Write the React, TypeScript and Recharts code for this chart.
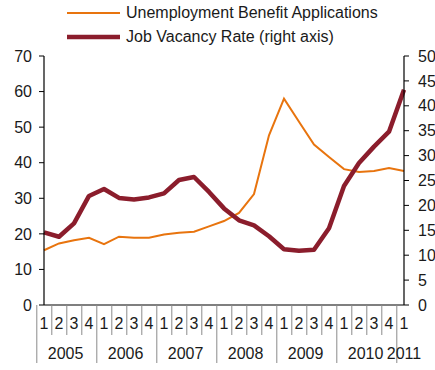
import { LineChart, Line, XAxis, YAxis } from 'recharts';

const quarters = ['1', '2', '3', '4', '1', '2', '3', '4', '1', '2', '3', '4', '1', '2', '3', '4', '1', '2', '3', '4', '1', '2', '3', '4', '1'];
const years = [
  '2005', '2005', '2005', '2005',
  '2006', '2006', '2006', '2006',
  '2007', '2007', '2007', '2007',
  '2008', '2008', '2008', '2008',
  '2009', '2009', '2009', '2009',
  '2010', '2010', '2010', '2010',
  '2011',
];
// left axis
const unemployment = [15.4, 17.3, 18.2, 18.9, 17.1, 19.2, 18.9, 18.9, 19.8, 20.3, 20.6, 22.1, 23.6, 25.9, 31.2, 47.7, 58.0, 51.5, 45.1, 41.6, 38.2, 37.4, 37.7, 38.5, 37.7];
// right axis
const vacancy = [14.6, 13.7, 16.4, 21.9, 23.3, 21.5, 21.2, 21.6, 22.4, 25.1, 25.7, 22.7, 19.4, 17.0, 16.0, 13.8, 11.2, 10.9, 11.1, 15.4, 23.9, 28.5, 31.8, 34.8, 43.2];
const leftTicks = [0, 10, 20, 30, 40, 50, 60, 70];
const rightTicks = [0, 5, 10, 15, 20, 25, 30, 35, 40, 45, 50];

const ORANGE = '#E8740E';
const DARK_RED = '#8B1D2C';
const FONT = '"Liberation Sans", Arial, sans-serif';
const TEXT = '#1a1a1a';
const FS = 16;

const W = 435;
const H = 370;
const LEFT_W = 44;
const RIGHT_W = 31;
const PLOT_W = W - LEFT_W - RIGHT_W;

const data = quarters.map((q, i) => ({
  key: `${years[i]}-${q}-${i}`,
  q,
  year: years[i],
  unemployment: unemployment[i],
  vacancy: vacancy[i],
}));

function QuarterTick(props: any) {
  const { x, y, index } = props;
  const bw = PLOT_W / data.length;
  const d = data[index];
  if (!d) return null;
  const firstOfYear = index === 0 || data[index - 1].year !== d.year;
  const left = x - bw / 2;
  let yearLabel = null;
  if (firstOfYear) {
    const count = data.filter((p) => p.year === d.year).length;
    yearLabel = (
      <text x={left + (count * bw) / 2} y={y + 54} textAnchor="middle" fontSize={FS} fontFamily={FONT} fill={TEXT}>
        {d.year}
      </text>
    );
  }
  return (
    <g>
      <line x1={left} x2={left} y1={y} y2={firstOfYear ? y + 58 : y + 30} stroke="#8a8a8a" strokeWidth={1} />
      <text x={x} y={y + 24} textAnchor="middle" fontSize={FS} fontFamily={FONT} fill={TEXT}>
        {d.q}
      </text>
      {yearLabel}
    </g>
  );
}

function LegendOverlay() {
  const items = [
    { label: 'Unemployment Benefit Applications', color: ORANGE, width: 2, top: 13 },
    { label: 'Job Vacancy Rate (right axis)', color: DARK_RED, width: 4.5, top: 37 },
  ];
  return (
    <>
      {items.map((it) => (
        <div
          key={it.label}
          style={{
            position: 'absolute',
            left: 67,
            top: it.top - 10,
            height: 20,
            display: 'flex',
            alignItems: 'center',
            fontFamily: FONT,
            fontSize: FS,
            color: TEXT,
            whiteSpace: 'nowrap',
          }}
        >
          <svg width={53} height={20} style={{ marginRight: 6 }}>
            <line x1={0} x2={53} y1={10} y2={10} stroke={it.color} strokeWidth={it.width} />
          </svg>
          <span>{it.label}</span>
        </div>
      ))}
    </>
  );
}

export default function App() {
  return (
    <div style={{ position: 'absolute', left: 0, top: 0, width: W, height: H, background: '#fff' }}>
      <LineChart width={W} height={H} data={data} margin={{ top: 56, right: 0, left: 0, bottom: 0 }}>
        <XAxis
          dataKey="key"
          xAxisId={0}
          height={65}
          interval={0}
          tickSize={0}
          tickMargin={0}
          tickLine={false}
          axisLine={{ stroke: '#000', strokeWidth: 1.2 }}
          tick={<QuarterTick />}
        />
        <YAxis
          yAxisId="left"
          orientation="left"
          width={LEFT_W}
          domain={[0, 70]}
          ticks={leftTicks}
          interval={0}
          tickSize={5}
          tickMargin={7}
          axisLine={{ stroke: '#000', strokeWidth: 1.2 }}
          tickLine={{ stroke: '#000' }}
          tick={{ fontSize: FS, fontFamily: FONT, fill: TEXT }}
        />
        <YAxis
          yAxisId="right"
          orientation="right"
          width={RIGHT_W}
          domain={[0, 50]}
          ticks={rightTicks}
          interval={0}
          tickSize={5}
          tickMargin={9}
          axisLine={{ stroke: '#000', strokeWidth: 1.2 }}
          tickLine={{ stroke: '#000' }}
          tick={{ fontSize: FS, fontFamily: FONT, fill: TEXT, textAnchor: 'start' }}
        />
        <Line
          yAxisId="left"
          type="linear"
          dataKey="unemployment"
          stroke={ORANGE}
          strokeWidth={2}
          dot={false}
          isAnimationActive={false}
        />
        <Line
          yAxisId="right"
          type="linear"
          dataKey="vacancy"
          stroke={DARK_RED}
          strokeWidth={4.5}
          strokeLinejoin="round"
          dot={false}
          isAnimationActive={false}
        />
      </LineChart>
      <LegendOverlay />
    </div>
  );
}
